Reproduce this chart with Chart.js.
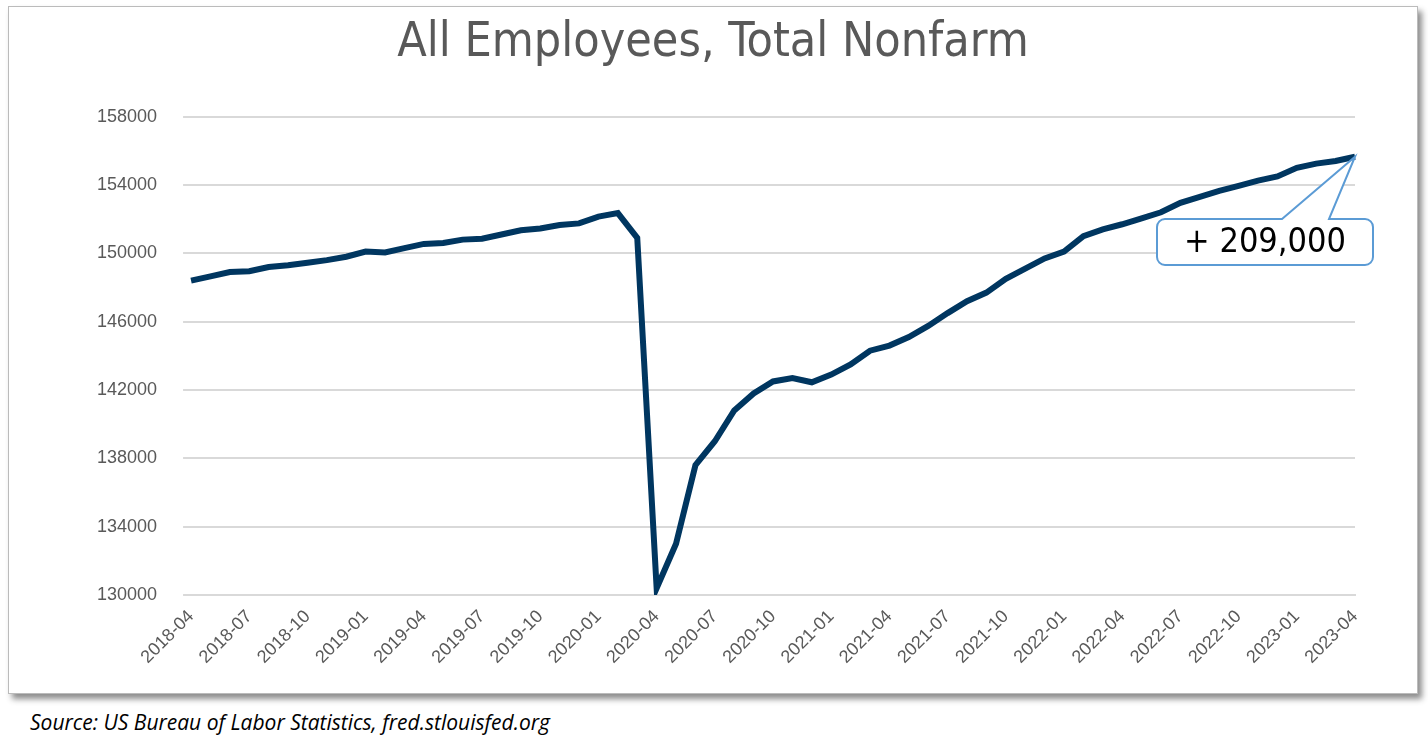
<!DOCTYPE html>
<html>
<head>
<meta charset="utf-8">
<script src="https://cdn.jsdelivr.net/npm/chart.js@4"></script>
<style>
  body { margin: 0; background: #fff; font-family: "Open Sans", sans-serif; }
  #frame { position: absolute; left: 8px; top: 6px; width: 1408px; height: 686px; border: 1px solid #bbb; box-shadow: 4px 5px 6px rgba(0,0,0,0.45); background: #fff; }
  #src { position: absolute; left: 30px; top: 708px; font-style: italic; font-size: 21px; color: #000; }
</style>
</head>
<body>
<div id="frame"><canvas id="c" width="1408" height="686"></canvas></div>
<div id="src">Source: US Bureau of Labor Statistics, fred.stlouisfed.org</div>
<script>
const months = [];
for (let y = 2018; y <= 2023; y++) {
  for (let m = 1; m <= 12; m++) {
    if ((y === 2018 && m < 4) || (y === 2023 && m > 4)) continue;
    months.push(y + '-' + String(m).padStart(2, '0'));
  }
}
const employees = [
  148400, 148650, 148900, 148950, 149200, 149300, 149450, 149600, 149800,
  150100, 150050, 150300, 150550, 150600, 150800, 150850, 151100, 151350, 151450, 151650, 151750,
  152150, 152350, 150900, 130400, 133000, 137600, 139000, 140800, 141800, 142500, 142700, 142450,
  142900, 143500, 144300, 144600, 145100, 145750, 146500, 147200, 147700, 148500, 149100, 149700,
  150100, 151000, 151400, 151700, 152050, 152400, 152950, 153300, 153650, 153950, 154250, 154500,
  155000, 155250, 155400, 155650
];
const calloutText = '+ 209,000';

const callout = {
  id: 'callout',
  afterDatasetsDraw(chart) {
    const ctx = chart.ctx;
    const meta = chart.getDatasetMeta(0);
    const p = meta.data[meta.data.length - 1];
    const bx = 1148, by = 212, bw = 216, bh = 46;
    ctx.save();
    ctx.fillStyle = '#fff';
    ctx.strokeStyle = '#5b9bd5';
    ctx.lineWidth = 2;
    ctx.beginPath();
    ctx.moveTo(bx + 8, by);
    ctx.lineTo(bx + 125, by);
    ctx.lineTo(p.x, p.y);
    ctx.lineTo(bx + 172, by);
    ctx.lineTo(bx + bw - 8, by);
    ctx.arcTo(bx + bw, by, bx + bw, by + 8, 8);
    ctx.lineTo(bx + bw, by + bh - 8);
    ctx.arcTo(bx + bw, by + bh, bx + bw - 8, by + bh, 8);
    ctx.lineTo(bx + 8, by + bh);
    ctx.arcTo(bx, by + bh, bx, by + bh - 8, 8);
    ctx.lineTo(bx, by + 8);
    ctx.arcTo(bx, by, bx + 8, by, 8);
    ctx.closePath();
    ctx.fill();
    ctx.stroke();
    ctx.fillStyle = '#000';
    ctx.font = '34px "DejaVu Sans Condensed", "DejaVu Sans", sans-serif';
    ctx.textAlign = 'center';
    ctx.textBaseline = 'middle';
    ctx.fillText(calloutText, bx + bw / 2, by + bh / 2 + 1);
    ctx.restore();
  }
};

new Chart(document.getElementById('c'), {
  type: 'line',
  data: {
    labels: months,
    datasets: [{
      data: employees,
      borderColor: '#003660',
      borderWidth: 6,
      pointRadius: 0,
      tension: 0,
    }],
  },
  options: {
    responsive: false,
    animation: false,
    layout: { padding: { left: 62, right: 62, top: 0, bottom: 22 } },
    plugins: {
      legend: { display: false },
      tooltip: { enabled: false },
      title: {
        display: true,
        text: 'All Employees, Total Nonfarm',
        color: '#595959',
        font: { size: 48, weight: 'normal', family: '"DejaVu Sans Condensed", "DejaVu Sans", sans-serif' },
        padding: { top: 8, bottom: 44 },
      },
    },
    scales: {
      x: {
        grid: { display: false },
        border: { color: '#d9d9d9', width: 2 },
        ticks: {
          color: '#595959',
          font: { size: 18 },
          maxRotation: 45,
          minRotation: 45,
          autoSkip: false,
          callback: (v, i) => (i % 3 === 0 ? months[i] : null),
        },
      },
      y: {
        min: 130000,
        max: 158000,
        border: { display: false },
        grid: { color: '#d9d9d9', lineWidth: 2 },
        ticks: { stepSize: 4000, color: '#595959', font: { size: 18 }, padding: 26, callback: v => String(v) },
      },
    },
  },
  plugins: [callout],
});
</script>
</body>
</html>
